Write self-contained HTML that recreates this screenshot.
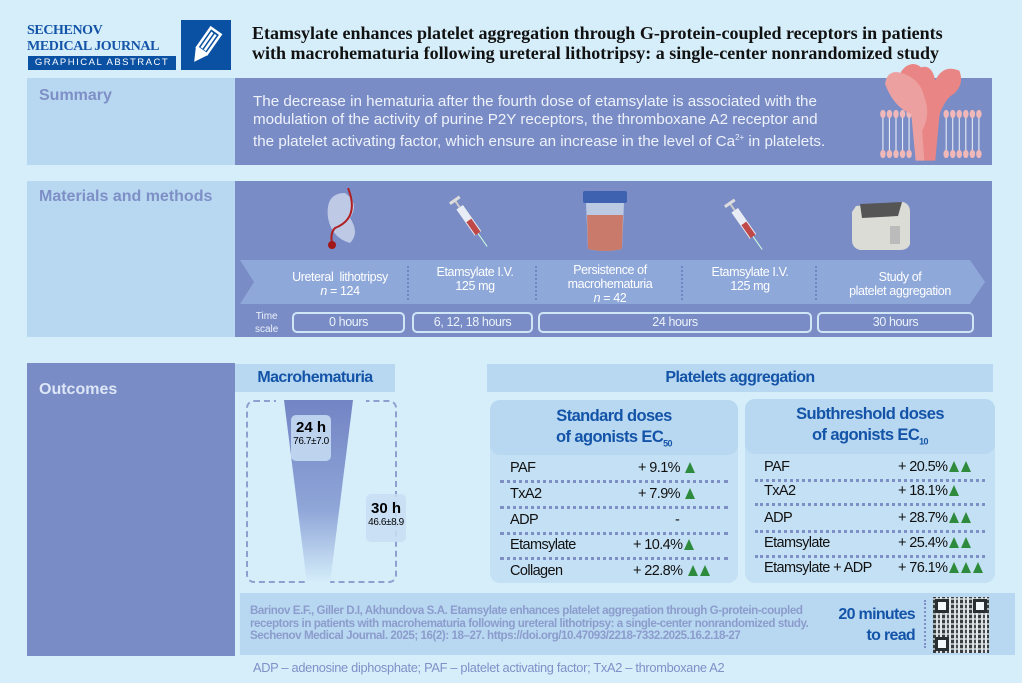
<!DOCTYPE html>
<html><head><meta charset="utf-8"><style>
*{margin:0;padding:0;box-sizing:border-box}
body{width:1022px;height:683px;background:#d5eefa;font-family:"Liberation Sans",sans-serif;position:relative;overflow:hidden}
.a{position:absolute}
.lab{color:#7e8fc6;font-weight:bold;font-size:16px}
.row{position:absolute;left:0;width:248px;height:25px;font-size:14.5px;color:#111;letter-spacing:-0.6px}
.dots{position:absolute;left:10px;right:10px;border-top:3px dotted #7e8fc6}
.tri{display:inline-block;width:0;height:0;border-left:5px solid transparent;border-right:5px solid transparent;border-bottom:11px solid #2e8b3e;margin-left:2px;vertical-align:-1px}
.tbox{position:absolute;top:312px;height:21px;border:2px solid #cfe6f7;border-radius:5px;color:#eaf2fb;font-size:12.5px;text-align:center;line-height:17px;letter-spacing:-0.4px}
.step{position:absolute;color:#fff;font-size:12.5px;text-align:center;line-height:14px;letter-spacing:-0.4px}
.sep{position:absolute;top:266px;height:34px;border-left:2px dotted #6f86c4}
</style></head><body>
<!-- header -->
<div class="a" style="left:27px;top:23px;font-family:'Liberation Serif',serif;font-weight:bold;color:#1454a8;font-size:14px;line-height:16px;letter-spacing:-0.4px">SECHENOV<br>MEDICAL JOURNAL</div>
<div class="a" style="left:28px;top:56px;width:148px;height:14px;background:#0a50a3;color:#fff;font-size:9.5px;letter-spacing:1.5px;text-align:center;line-height:14px">GRAPHICAL ABSTRACT</div>
<div class="a" style="left:181px;top:20px;width:50px;height:50px;background:#0a50a3">
<svg width="50" height="50"><g transform="translate(25,25) rotate(35)" fill="none" stroke="#fff" stroke-width="2.5"><rect x="-6" y="-17" width="12" height="24"/><line x1="-2" y1="-14" x2="-2" y2="5"/><line x1="2" y1="-14" x2="2" y2="5"/><path d="M-6 7 L0 18 L6 7" fill="#fff"/></g></svg></div>
<div class="a" style="left:252px;top:23px;font-family:'Liberation Serif',serif;font-weight:bold;font-size:18px;line-height:20px;color:#111;white-space:nowrap">Etamsylate enhances platelet aggregation through G-protein-coupled receptors in patients<br>with macrohematuria following ureteral lithotripsy: a single-center nonrandomized study</div>
<!-- summary -->
<div class="a" style="left:27px;top:78px;width:208px;height:87px;background:#b8d8f1"></div>
<div class="a lab" style="left:39px;top:87px">Summary</div>
<div class="a" style="left:235px;top:78px;width:757px;height:87px;background:#7a8cc5"></div>
<div class="a" style="left:253px;top:93px;color:#eef2fb;font-size:15.2px;line-height:18px;white-space:nowrap">The decrease in hematuria after the fourth dose of etamsylate is associated with the<br>modulation of the activity of purine P2Y receptors, the thromboxane A2 receptor and<br>the platelet activating factor, which ensure an increase in the level of Ca<sup style="font-size:8px">2+</sup> in platelets.</div>
<svg class="a" style="left:872px;top:64px" width="120" height="100" viewBox="0 0 110 60" preserveAspectRatio="none">
<g stroke="#e8ecf7" stroke-width="1"><path d="M10 32v20M16 32v20M22 32v20M28 32v20M34 32v20M68 32v20M74 32v20M80 32v20M86 32v20M92 32v20M98 32v20"/></g>
<g fill="#f0b8b8"><circle cx="10" cy="30" r="2.5"/><circle cx="16" cy="30" r="2.5"/><circle cx="22" cy="30" r="2.5"/><circle cx="28" cy="30" r="2.5"/><circle cx="34" cy="30" r="2.5"/><circle cx="68" cy="30" r="2.5"/><circle cx="74" cy="30" r="2.5"/><circle cx="80" cy="30" r="2.5"/><circle cx="86" cy="30" r="2.5"/><circle cx="92" cy="30" r="2.5"/><circle cx="98" cy="30" r="2.5"/>
<circle cx="10" cy="54" r="2.5"/><circle cx="16" cy="54" r="2.5"/><circle cx="22" cy="54" r="2.5"/><circle cx="28" cy="54" r="2.5"/><circle cx="34" cy="54" r="2.5"/><circle cx="68" cy="54" r="2.5"/><circle cx="74" cy="54" r="2.5"/><circle cx="80" cy="54" r="2.5"/><circle cx="86" cy="54" r="2.5"/><circle cx="92" cy="54" r="2.5"/><circle cx="98" cy="54" r="2.5"/></g>
<path d="M30 2 Q20 8 28 18 Q40 22 42 35 L45 58 L58 58 L62 30 Q68 20 75 18 Q85 12 80 4 Q65 0 58 10 Q55 0 45 2 Q38 -2 30 2Z" fill="#e98585"/>
<path d="M12 12 Q14 2 30 6 Q45 10 48 20 Q54 30 46 40 L48 58 L40 58 L36 30 Q20 26 12 12Z" fill="#eda0a0"/>
</svg>
<!-- materials -->
<div class="a" style="left:27px;top:181px;width:208px;height:156px;background:#b8d8f1"></div>
<div class="a lab" style="left:39px;top:188px">Materials and methods</div>
<div class="a" style="left:235px;top:181px;width:757px;height:156px;background:#7a8cc5"></div>
<svg class="a" style="left:240px;top:260px" width="745" height="44"><polygon points="0,0 730,0 745,22 730,44 0,44 14,22" fill="#8ea8d9"/></svg>
<div class="sep" style="left:407px"></div><div class="sep" style="left:535px"></div><div class="sep" style="left:681px"></div><div class="sep" style="left:815px"></div>
<div class="step" style="left:280px;top:270px;width:120px">Ureteral&nbsp; lithotripsy<br><i>n</i> = 124</div>
<div class="step" style="left:420px;top:265px;width:110px">Etamsylate I.V.<br>125 mg</div>
<div class="step" style="left:545px;top:263px;width:130px">Persistence of<br>macrohematuria<br><i>n</i> = 42</div>
<div class="step" style="left:690px;top:265px;width:120px">Etamsylate I.V.<br>125 mg</div>
<div class="step" style="left:830px;top:270px;width:140px">Study of<br>platelet aggregation</div>
<div class="a" style="left:255px;top:310px;color:#eaf2fb;font-size:10px;line-height:13px;text-align:center">Time<br>scale</div>
<div class="tbox" style="left:292px;width:113px">0 hours</div>
<div class="tbox" style="left:412px;width:121px">6, 12, 18 hours</div>
<div class="tbox" style="left:538px;width:274px">24 hours</div>
<div class="tbox" style="left:817px;width:157px">30 hours</div>
<!-- icons -->
<svg class="a" style="left:320px;top:188px" width="50" height="65"><path d="M25 5 Q5 5 8 30 Q12 50 30 55 Q40 45 30 30 Q40 15 25 5Z" fill="#cfd8ee" opacity=".8"/><path d="M28 0 Q40 30 15 40 Q10 45 12 55" stroke="#b02020" stroke-width="2" fill="none"/><circle cx="12" cy="57" r="4" fill="#a01818"/></svg>
<svg class="a" style="left:445px;top:192px" width="50" height="60"><g transform="rotate(-35 25 30)"><rect x="21" y="12" width="8" height="32" fill="#e8ecf4"/><rect x="22" y="28" width="6" height="16" fill="#c04848"/><rect x="24" y="2" width="2" height="10" fill="#ccc"/><rect x="19" y="2" width="12" height="3" fill="#ddd"/><line x1="25" y1="44" x2="25" y2="60" stroke="#cfd" stroke-width="1"/></g></svg>
<svg class="a" style="left:720px;top:195px" width="50" height="60"><g transform="rotate(-35 25 30)"><rect x="21" y="12" width="8" height="32" fill="#e8ecf4"/><rect x="22" y="28" width="6" height="16" fill="#c04848"/><rect x="24" y="2" width="2" height="10" fill="#ccc"/><rect x="19" y="2" width="12" height="3" fill="#ddd"/><line x1="25" y1="44" x2="25" y2="60" stroke="#cfd" stroke-width="1"/></g></svg>
<svg class="a" style="left:580px;top:191px" width="50" height="62"><rect x="3" y="0" width="44" height="12" rx="2" fill="#3e62b0"/><path d="M6 12 L44 12 L42 58 Q25 62 8 58Z" fill="#d8e2ee" opacity=".7"/><path d="M7 24 L43 24 L42 58 Q25 62 8 58Z" fill="#c97a6a"/></svg>
<svg class="a" style="left:848px;top:196px" width="66" height="56"><path d="M8 10 L55 6 Q62 8 62 16 L62 48 Q60 54 52 54 L12 54 Q4 52 4 44 L4 16Z" fill="#dcdcd6"/><path d="M12 8 L54 6 L50 20 L14 22Z" fill="#555"/><rect x="42" y="30" width="10" height="18" fill="#bbb"/></svg>
<!-- outcomes -->
<div class="a" style="left:27px;top:363px;width:208px;height:293px;background:#7a8cc5"></div>
<div class="a" style="left:39px;top:381px;color:#dce6f7;font-weight:bold;font-size:16px">Outcomes</div>
<div class="a" style="left:235px;top:364px;width:160px;height:28px;background:#b8d8f1;color:#1454a8;font-weight:bold;font-size:16px;text-align:center;line-height:28px;letter-spacing:-0.6px">Macrohematuria</div>
<div class="a" style="left:487px;top:364px;width:506px;height:28px;background:#b8d8f1;color:#1454a8;font-weight:bold;font-size:16px;text-align:center;line-height:28px;letter-spacing:-0.6px">Platelets aggregation</div>
<div class="a" style="left:246px;top:400px;width:151px;height:183px;border:2px dashed #8ea0cf;border-radius:8px"></div>
<div class="a" style="left:276px;top:396px;width:90px;height:10px;background:#d5eefa"></div>
<svg class="a" style="left:280px;top:400px" width="80" height="183"><defs><linearGradient id="g" x1="0" y1="0" x2="0" y2="1"><stop offset="0" stop-color="#7384c4"/><stop offset=".6" stop-color="#8fa6d8"/><stop offset="1" stop-color="#d5eefa"/></linearGradient></defs><polygon points="4,0 73,0 50,183 27,183" fill="url(#g)"/></svg>
<div class="a" style="left:291px;top:415px;width:40px;height:46px;background:rgba(200,222,243,.85);border-radius:5px;text-align:center"><div style="font-weight:bold;font-size:15px;margin-top:4px">24 h</div><div style="font-size:10px;letter-spacing:-0.4px">76.7±7.0</div></div>
<div class="a" style="left:366px;top:494px;width:40px;height:48px;background:rgba(200,222,243,.85);border-radius:5px;text-align:center"><div style="font-weight:bold;font-size:15px;margin-top:6px">30 h</div><div style="font-size:10px;letter-spacing:-0.4px">46.6±8.9</div></div>
<!-- standard card -->
<div class="a" style="left:490px;top:400px;width:248px;height:183px;background:#c4e0f4;border-radius:10px">
<div style="position:absolute;left:0;top:0;width:248px;height:55px;background:#b8d8f1;border-radius:10px;color:#1454a8;font-weight:bold;font-size:16.5px;text-align:center;line-height:21px;padding-top:6px;letter-spacing:-0.6px">Standard doses<br>of agonists EC<sub style="font-size:9px">50</sub></div>
<div class="row" style="top:60px"><span class="a" style="left:20px">PAF</span><span class="a" style="left:148px">+ 9.1% <span class="tri"></span></span></div><div class="dots" style="top:80px"></div>
<div class="row" style="top:86px"><span class="a" style="left:20px">TxA2</span><span class="a" style="left:148px">+ 7.9% <span class="tri"></span></span></div><div class="dots" style="top:106px"></div>
<div class="row" style="top:112px"><span class="a" style="left:20px">ADP</span><span class="a" style="left:185px">-</span></div><div class="dots" style="top:132px"></div>
<div class="row" style="top:137px"><span class="a" style="left:20px">Etamsylate</span><span class="a" style="left:143px">+ 10.4%<span class="tri"></span></span></div><div class="dots" style="top:157px"></div>
<div class="row" style="top:163px"><span class="a" style="left:20px">Collagen</span><span class="a" style="left:143px">+ 22.8% <span class="tri"></span><span class="tri"></span></span></div>
</div>
<!-- subthreshold card -->
<div class="a" style="left:745px;top:399px;width:250px;height:184px;background:#c4e0f4;border-radius:10px">
<div style="position:absolute;left:0;top:0;width:250px;height:55px;background:#b8d8f1;border-radius:10px;color:#1454a8;font-weight:bold;font-size:16.5px;text-align:center;line-height:21px;padding-top:5px;letter-spacing:-0.6px">Subthreshold doses<br>of agonists EC<sub style="font-size:9px">10</sub></div>
<div class="row" style="top:60px"><span class="a" style="left:19px">PAF</span><span class="a" style="left:153px">+ 20.5%<span class="tri"></span><span class="tri"></span></span></div><div class="dots" style="top:80px"></div>
<div class="row" style="top:84px"><span class="a" style="left:19px">TxA2</span><span class="a" style="left:153px">+ 18.1%<span class="tri"></span></span></div><div class="dots" style="top:104px"></div>
<div class="row" style="top:111px"><span class="a" style="left:19px">ADP</span><span class="a" style="left:153px">+ 28.7%<span class="tri"></span><span class="tri"></span></span></div><div class="dots" style="top:131px"></div>
<div class="row" style="top:136px"><span class="a" style="left:19px">Etamsylate</span><span class="a" style="left:153px">+ 25.4%<span class="tri"></span><span class="tri"></span></span></div><div class="dots" style="top:156px"></div>
<div class="row" style="top:161px"><span class="a" style="left:19px">Etamsylate + ADP</span><span class="a" style="left:153px">+ 76.1%<span class="tri"></span><span class="tri"></span><span class="tri"></span></span></div>
</div>
<!-- citation -->
<div class="a" style="left:240px;top:593px;width:775px;height:62px;background:#b8d8f1"></div>
<div class="a" style="left:250px;top:605px;color:#8c9ccc;font-size:11.6px;line-height:12.5px;font-weight:bold;letter-spacing:-0.45px;white-space:nowrap">Barinov E.F., Giller D.I, Akhundova S.A. Etamsylate enhances platelet aggregation through G-protein-coupled<br>receptors in patients with macrohematuria following ureteral lithotripsy: a single-center nonrandomized study.<br>Sechenov Medical Journal. 2025; 16(2): 18–27. https://doi.org/10.47093/2218-7332.2025.16.2.18-27</div>
<div class="a" style="left:820px;top:604px;width:95px;text-align:right;color:#1454a8;font-weight:bold;font-size:16px;line-height:21px;letter-spacing:-0.7px">20 minutes<br>to read</div>
<div class="a" style="left:924px;top:600px;height:48px;border-left:2px dotted #7e8fc6"></div>
<div class="a" style="left:933px;top:597px;width:56px;height:56px;background:repeating-linear-gradient(90deg,#222 0 3px,#ddd 3px 5px,#333 5px 7px,#eee 7px 9px),#222;opacity:.85">
<div style="position:absolute;inset:0;background:repeating-linear-gradient(0deg,transparent 0 3px,rgba(230,230,230,.7) 3px 5px)"></div>
<div style="position:absolute;left:2px;top:2px;width:14px;height:14px;border:3px solid #111;background:#fff"></div>
<div style="position:absolute;right:2px;top:2px;width:14px;height:14px;border:3px solid #111;background:#fff"></div>
<div style="position:absolute;left:2px;bottom:2px;width:14px;height:14px;border:3px solid #111;background:#fff"></div></div>
<div class="a" style="left:253px;top:660px;color:#8090c8;font-size:12.8px;letter-spacing:-0.3px;white-space:nowrap">ADP – adenosine diphosphate; PAF – platelet activating factor; TxA2 – thromboxane A2</div>
</body></html>
